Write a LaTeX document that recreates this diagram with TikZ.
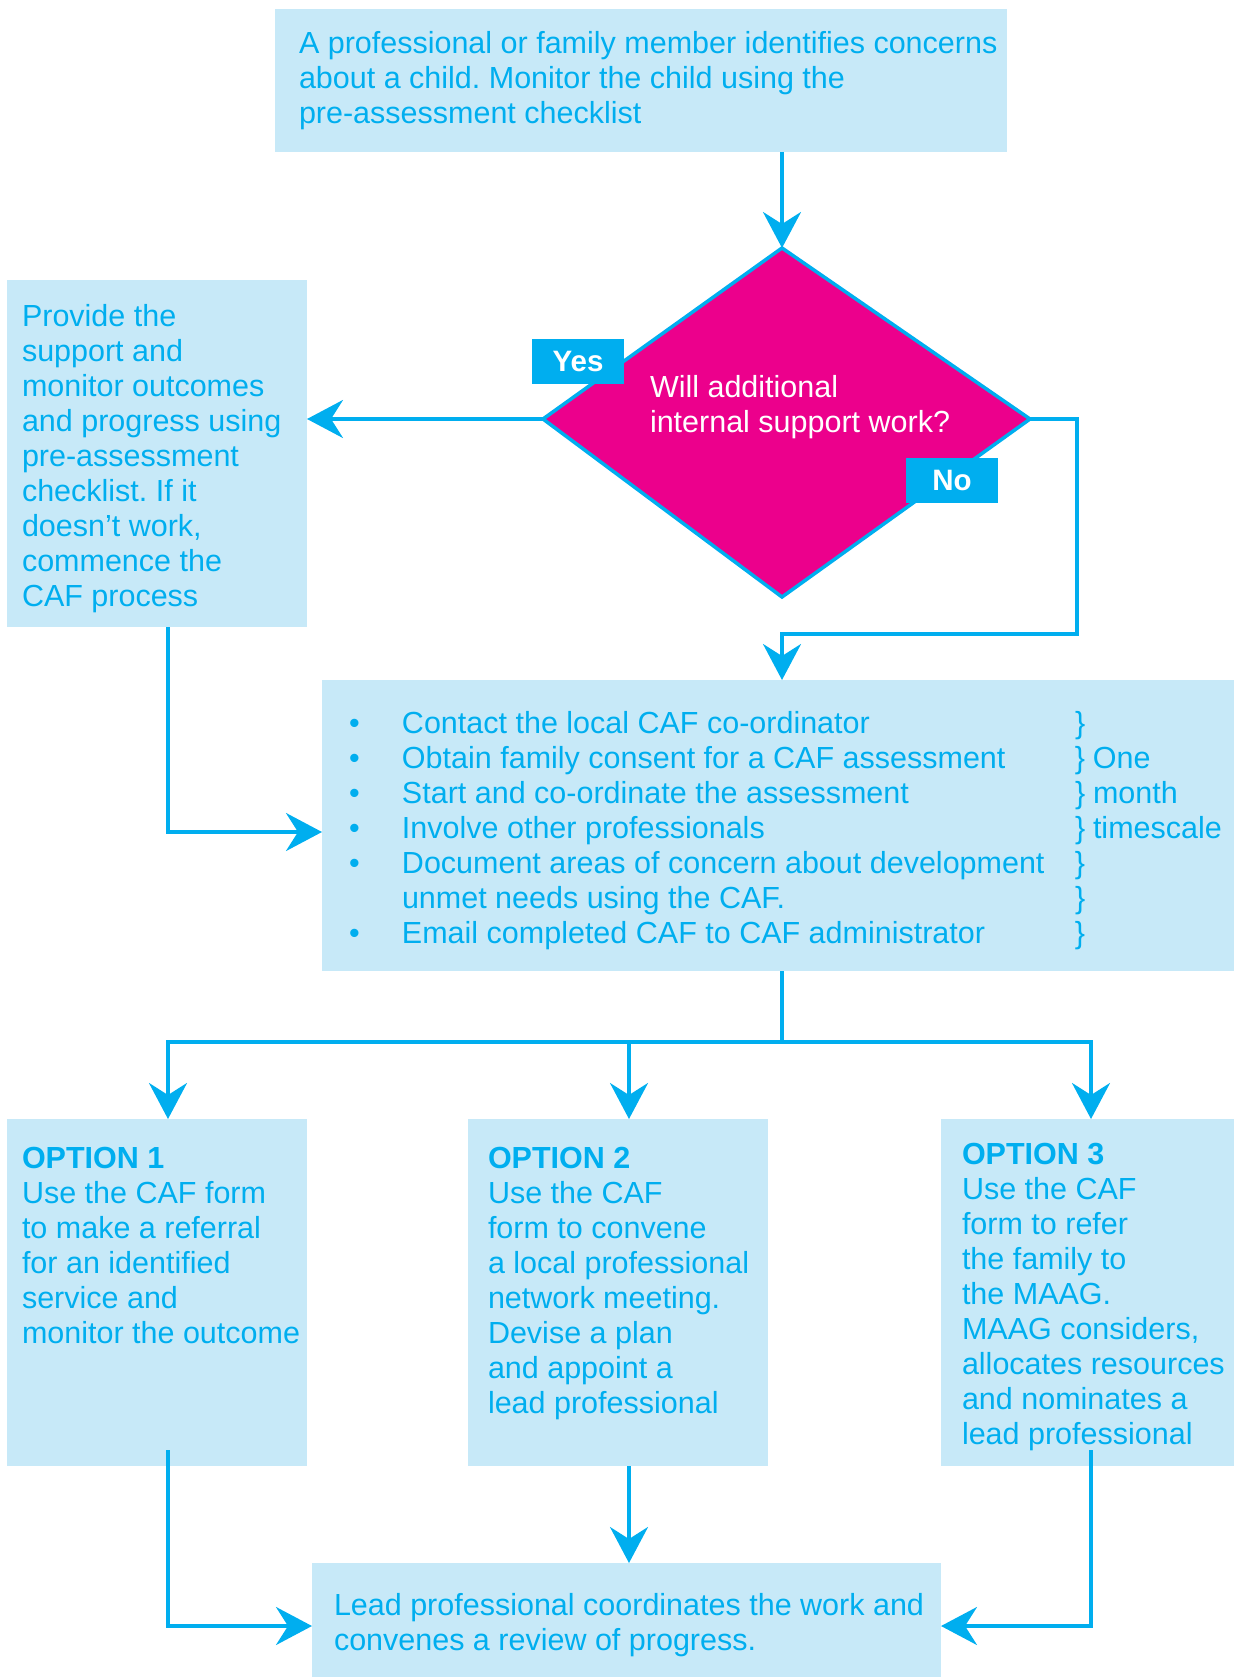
\documentclass[tikz,border=0pt]{standalone}
\usepackage{fontspec}
\setmainfont{Liberation Sans}
\usetikzlibrary{arrows.meta}
\definecolor{cafblue}{HTML}{00AEEF}
\definecolor{boxfill}{HTML}{C7E9F8}
\definecolor{magfill}{HTML}{EC008C}
\newcommand{\tb}[1]{\begin{tabular}{@{}l@{}}#1\end{tabular}}
\frenchspacing
\begin{document}
\begin{tikzpicture}[x=1pt,y=-1pt,
  box/.style={fill=boxfill, draw=none, inner sep=0pt, outer sep=0pt, anchor=north west},
  txt/.style={anchor=north west, inner sep=0pt, outer sep=0pt, text=cafblue, font=\fontsize{30.5}{35}\selectfont\frenchspacing},
  conn/.style={draw=cafblue, line width=3.5pt},
  arr/.style={conn, -{Stealth[length=36pt,width=38pt,inset=12pt]}},
  lab/.style={fill=cafblue, text=white, font=\fontsize{29.5}{35}\selectfont\bfseries, minimum width=92pt, minimum height=45pt, inner sep=0pt, outer sep=0pt}]
\useasboundingbox (0,0) rectangle (1234,1677);

% boxes
\node[box, minimum width=732pt, minimum height=143pt] (top) at (275,9) {};
\node[box, minimum width=300pt, minimum height=347pt] (left) at (7,280) {};
\node[box, minimum width=912pt, minimum height=291pt] (list) at (322,680) {};
\node[box, minimum width=300pt, minimum height=347pt] (opt1) at (7,1119) {};
\node[box, minimum width=300pt, minimum height=347pt] (opt2) at (468,1119) {};
\node[box, minimum width=293pt, minimum height=347pt] (opt3) at (941,1119) {};
\node[box, minimum width=629pt, minimum height=114pt] (bot) at (312,1563) {};

% diamond
\coordinate (dtop) at (782,248);
\coordinate (dright) at (1030,419);
\coordinate (dbottom) at (782,597);
\coordinate (dleft) at (543,419);
\draw[fill=magfill, draw=cafblue, line width=3.5pt, line join=miter] (dtop) -- (dright) -- (dbottom) -- (dleft) -- cycle;

% texts
\node[txt] (toptext) at (299,29.5) {\tb{A professional or family member identifies concerns\\about a child. Monitor the child using the\\pre-assessment checklist}};
\node[txt] (lefttext) at (22,302) {\tb{Provide the\\support and\\monitor outcomes\\and progress using\\pre-assessment\\checklist. If it\\doesn’t work,\\commence the\\CAF process}};
\node[txt, text=white] (dtext) at (650,373) {\tb{Will additional\\internal support work?}};
\node[txt] (listtext) at (349,709) {\begin{tabular}{@{}p{53pt}@{}p{673pt}@{}p{18pt}@{}l@{}}
•&Contact the local CAF co-ordinator&\}&\\
•&Obtain family consent for a CAF assessment&\}&One\\
•&Start and co-ordinate the assessment&\}&month\\
•&Involve other professionals&\}&timescale\\
•&Document areas of concern about development&\}&\\
&unmet needs using the CAF.&\}&\\
•&Email completed CAF to CAF administrator&\}&
\end{tabular}};
\node[txt] (o1text) at (22,1144) {\tb{\textbf{OPTION 1}\\Use the CAF form\\to make a referral\\for an identified\\service and\\monitor the outcome}};
\node[txt] (o2text) at (488,1144) {\tb{\textbf{OPTION 2}\\Use the CAF\\form to convene\\a local professional\\network meeting.\\Devise a plan\\and appoint a\\lead professional}};
\node[txt] (o3text) at (962,1139.5) {\tb{\textbf{OPTION 3}\\Use the CAF\\form to refer\\the family to\\the MAAG.\\MAAG considers,\\allocates resources\\and nominates a\\lead professional}};
\node[txt] (bottext) at (334,1591) {\tb{Lead professional coordinates the work and\\convenes a review of progress.}};

% labels
\node[lab] (yes) at (578,361.5) {Yes};
\node[lab] (no) at (952,480.5) {No};

% connectors
\draw[arr] (top.south -| dtop) -- (dtop);
\draw[arr] (dleft) -- (left.east |- dleft);
\coordinate (nc) at (1077,634);
\draw[arr] (dright) -| (nc) -| (list.north -| dtop);
\coordinate (lj) at (168,832);
\draw[arr] (left.south -| lj) -- (lj) -- (list.west |- lj);
\coordinate (br) at (782,1042);
\coordinate (a1) at (168,1119);
\coordinate (a2) at (629,1119);
\coordinate (a3) at (1091,1119);
\draw[conn] (list.south -| br) -- (br);
\draw[arr] (br) -| (a1);
\draw[arr] (br) -| (a2);
\draw[arr] (br) -| (a3);
\coordinate (o1s) at (168,1450);
\coordinate (o3s) at (1091,1450);
\coordinate (bl) at (0,1626);
\draw[arr] (o1s) |- (bot.west |- bl);
\draw[arr] (opt2.south -| a2) -- (bot.north -| a2);
\draw[arr] (o3s) |- (bot.east |- bl);
\end{tikzpicture}
\end{document}
